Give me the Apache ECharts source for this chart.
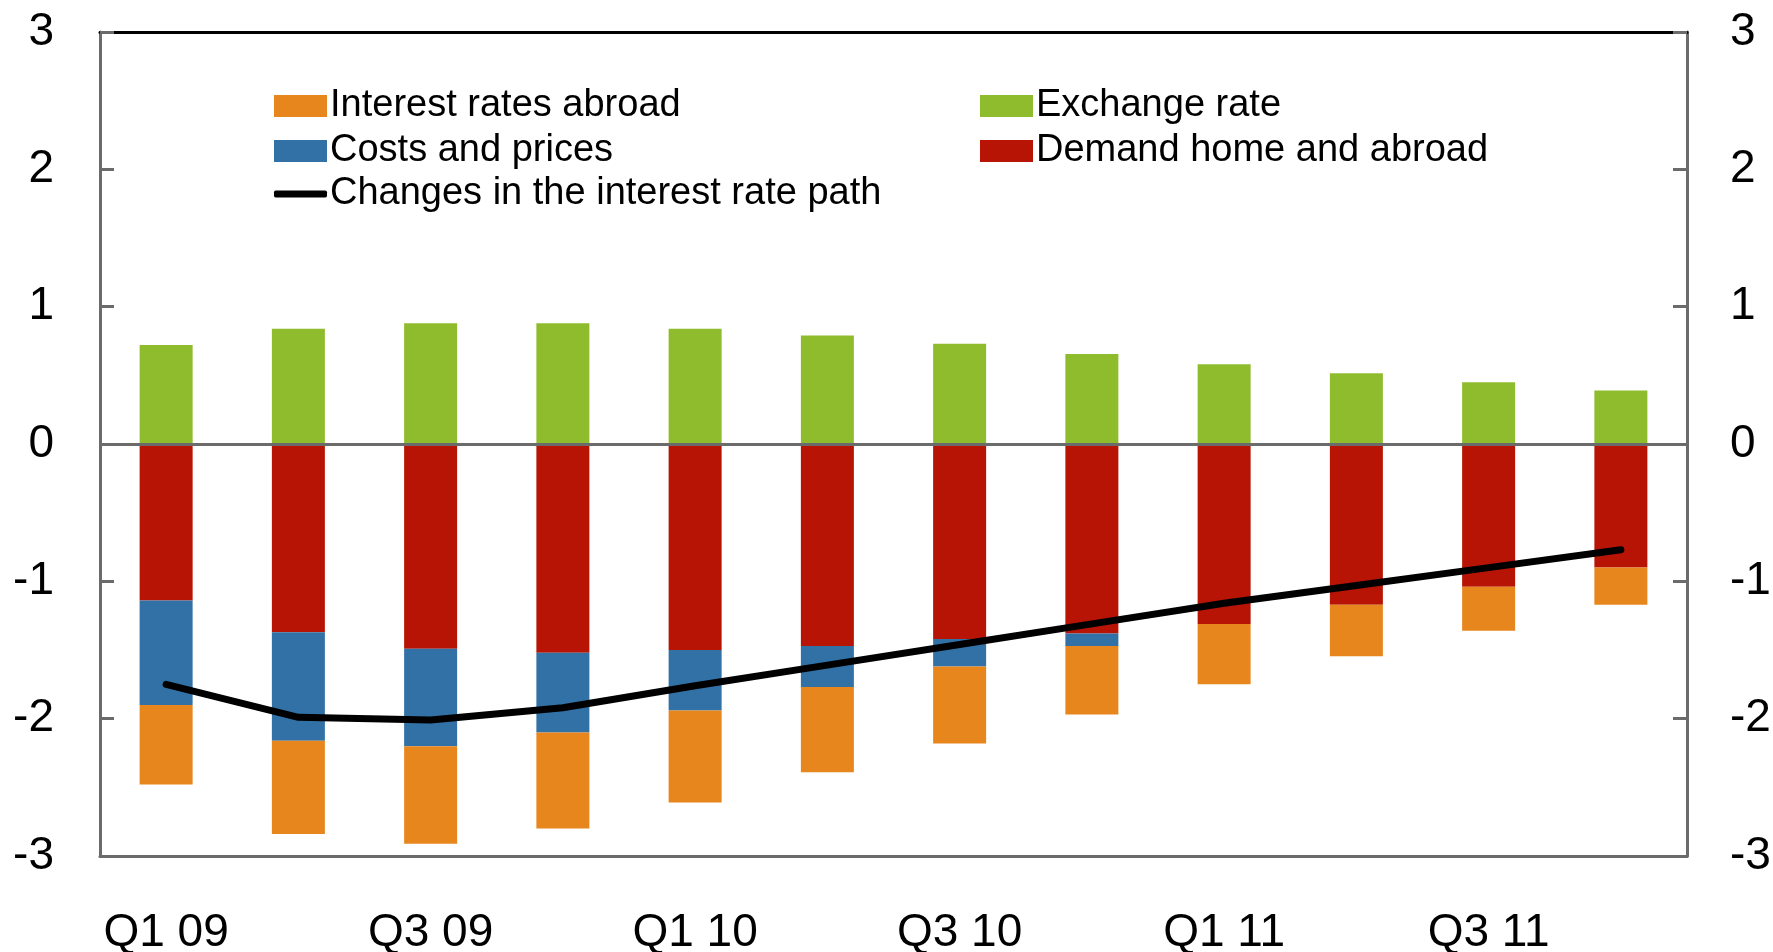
<!DOCTYPE html>
<html>
<head>
<meta charset="utf-8">
<script src="https://cdn.jsdelivr.net/npm/echarts@6/dist/echarts.min.js"></script>
<style>
  html, body { margin: 0; padding: 0; background: #fff; }
  #chart { width: 1773px; height: 952px; }
</style>
</head>
<body>
<div id="chart"></div>
<script>
// quarters on the x axis
var quarters = ['Q1 09', 'Q2 09', 'Q3 09', 'Q4 09', 'Q1 10', 'Q2 10', 'Q3 10', 'Q4 10', 'Q1 11', 'Q2 11', 'Q3 11', 'Q4 11'];

// contributions (percentage points)
var exchangeRate = [0.72, 0.84, 0.88, 0.88, 0.84, 0.79, 0.73, 0.655, 0.58, 0.515, 0.45, 0.39];
var demand = [-1.14, -1.37, -1.49, -1.52, -1.50, -1.47, -1.42, -1.38, -1.31, -1.17, -1.04, -0.90];
var costsPrices = [-0.76, -0.79, -0.71, -0.58, -0.44, -0.30, -0.20, -0.09, 0, 0, 0, 0];
var ratesAbroad = [-0.58, -0.68, -0.71, -0.70, -0.67, -0.62, -0.56, -0.50, -0.44, -0.375, -0.32, -0.27];
var ratePath = [-1.75, -1.99, -2.01, -1.92, -1.76, -1.61, -1.46, -1.31, -1.16, -1.03, -0.90, -0.77];

var FONT = 'Liberation Sans';
var axisGrey = '#6b6b6b';

var legendText = { fontSize: 38, fontFamily: FONT, color: '#000', padding: [0, 0, 0, -2] };

var chart = echarts.init(document.getElementById('chart'));

chart.setOption({
  animation: false,
  backgroundColor: '#fff',
  textStyle: { fontFamily: FONT, color: '#000' },
  grid: { left: 100, right: 86, top: 32, bottom: 96, containLabel: false, outerBoundsMode: 'none' },
  legend: [{
    data: ['Interest rates abroad', 'Costs and prices'],
    orient: 'vertical',
    icon: 'rect',
    left: 269,
    top: 82,
    itemWidth: 53,
    itemHeight: 22,
    itemGap: 7,
    textStyle: legendText
  }, {
    data: ['Changes in the interest rate path'],
    orient: 'vertical',
    icon: 'roundRect',
    left: 269,
    top: 170,
    itemWidth: 53,
    itemHeight: 7,
    textStyle: legendText
  }, {
    data: ['Exchange rate', 'Demand home and abroad'],
    orient: 'vertical',
    icon: 'rect',
    left: 975,
    top: 82,
    itemWidth: 53,
    itemHeight: 22,
    itemGap: 7,
    textStyle: legendText
  }],
  xAxis: [{
    type: 'category',
    data: quarters,
    position: 'bottom',
    axisLine: { onZero: false, lineStyle: { color: axisGrey, width: 3 } },
    axisTick: { inside: true, length: 14, interval: 1, lineStyle: { color: axisGrey, width: 3 } },
    axisLabel: { interval: 1, fontSize: 46, color: '#000', margin: 54, fontFamily: FONT },
    splitLine: { show: false }
  }, {
    type: 'category',
    data: quarters,
    position: 'top',
    axisLine: { onZero: false, lineStyle: { color: '#000', width: 3 } },
    axisTick: { show: false },
    axisLabel: { show: false }
  }],
  yAxis: [{
    type: 'value',
    min: -3,
    max: 3,
    interval: 1,
    position: 'left',
    axisLine: { show: true, lineStyle: { color: axisGrey, width: 3 } },
    axisTick: { show: true, inside: true, length: 14, lineStyle: { color: axisGrey, width: 3 } },
    axisLabel: { fontSize: 46, color: '#000', margin: 46, fontFamily: FONT },
    splitLine: { show: false }
  }, {
    type: 'value',
    min: -3,
    max: 3,
    interval: 1,
    position: 'right',
    axisLine: { show: true, lineStyle: { color: axisGrey, width: 3 } },
    axisTick: { show: true, inside: true, length: 14, lineStyle: { color: axisGrey, width: 3 } },
    axisLabel: { fontSize: 46, color: '#000', margin: 43, fontFamily: FONT },
    splitLine: { show: false }
  }],
  series: [{
    name: 'Demand home and abroad',
    type: 'bar',
    stack: 'total',
    barWidth: 53,
    data: demand,
    itemStyle: { color: '#B71405' }
  }, {
    name: 'Costs and prices',
    type: 'bar',
    stack: 'total',
    barWidth: 53,
    data: costsPrices,
    itemStyle: { color: '#3271A6' }
  }, {
    name: 'Interest rates abroad',
    type: 'bar',
    stack: 'total',
    barWidth: 53,
    data: ratesAbroad,
    itemStyle: { color: '#E8861E' }
  }, {
    name: 'Exchange rate',
    type: 'bar',
    stack: 'total',
    barWidth: 53,
    data: exchangeRate,
    itemStyle: { color: '#8FBC2D' },
    markLine: {
      silent: true,
      symbol: ['none', 'none'],
      label: { show: false },
      lineStyle: { color: axisGrey, width: 3, type: 'solid' },
      data: [{ yAxis: 0 }]
    }
  }, {
    name: 'Changes in the interest rate path',
    type: 'line',
    data: ratePath,
    symbol: 'none',
    z: 5,
    itemStyle: { color: '#000' },
    lineStyle: { color: '#000', width: 7, cap: 'round', join: 'round' }
  }]
});
</script>
</body>
</html>
